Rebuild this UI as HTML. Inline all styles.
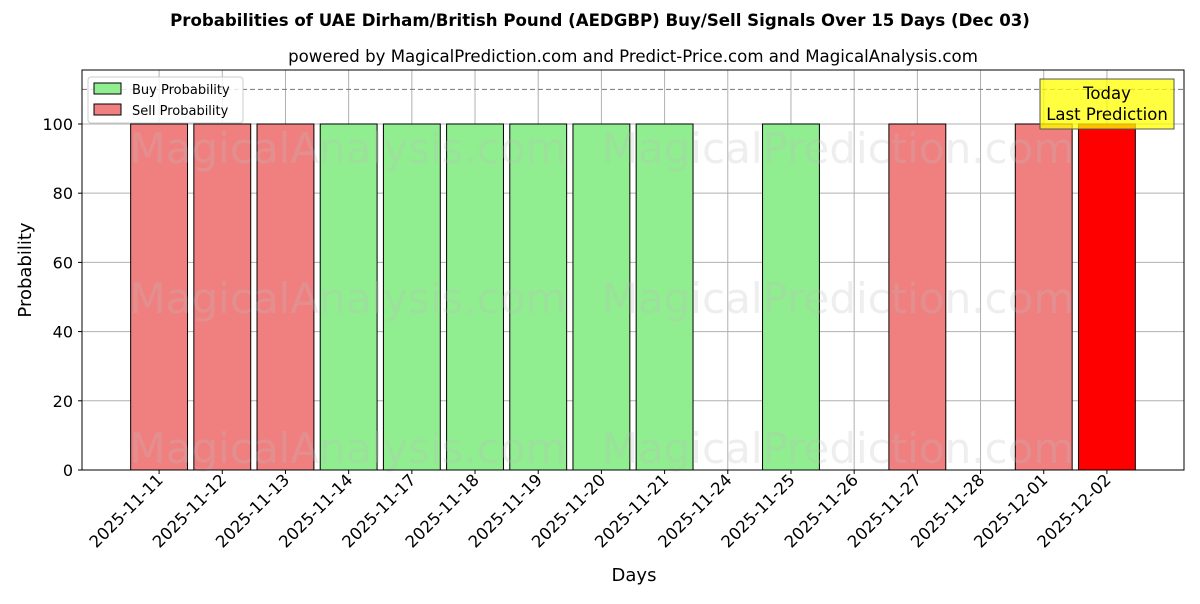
<!DOCTYPE html>
<html><head><meta charset="utf-8"><style>
body{margin:0;background:#fff;font-family:"DejaVu Sans","Liberation Sans",sans-serif;}
</style></head><body>
<svg id="chart" width="1200" height="600" xmlns="http://www.w3.org/2000/svg">
<text x="600" y="26" text-anchor="middle" font-size="16.6" font-weight="bold">Probabilities of UAE Dirham/British Pound (AEDGBP) Buy/Sell Signals Over 15 Days (Dec 03)</text>
<text x="633" y="62" text-anchor="middle" font-size="16.6">powered by MagicalPrediction.com and Predict-Price.com and MagicalAnalysis.com</text>
<g id="grid"></g>
<g id="bars"></g>
<g id="wm" font-size="42" fill="#bbb" fill-opacity="0.25" text-anchor="middle">
<text x="348" y="163">MagicalAnalysis.com</text>
<text x="838" y="163">MagicalPrediction.com</text>
<text x="348" y="313">MagicalAnalysis.com</text>
<text x="838" y="313">MagicalPrediction.com</text>
<text x="348" y="463">MagicalAnalysis.com</text>
<text x="838" y="463">MagicalPrediction.com</text>
</g>
<line id="thr" x1="82" x2="1184" stroke="#777" stroke-dasharray="5,3"/>
<rect x="82" y="70" width="1102" height="400" fill="none" stroke="#000"/>
<g id="axes" font-size="16"></g>
<text x="634" y="581" text-anchor="middle" font-size="18">Days</text>
<text transform="translate(31,270) rotate(-90)" text-anchor="middle" font-size="18">Probability</text>
<g>
<rect x="88" y="77" width="155" height="46" rx="3" fill="#fff" fill-opacity="0.8" stroke="#ccc"/>
<rect x="94" y="83" width="27" height="11" fill="#90ee90" stroke="#000"/>
<text x="132" y="94" font-size="13">Buy Probability</text>
<rect x="94" y="104" width="27" height="11" fill="#f08080" stroke="#000"/>
<text x="132" y="115" font-size="13">Sell Probability</text>
</g>
<g>
<rect x="1040" y="79" width="134" height="50" fill="#ffff00" fill-opacity="0.75" stroke="#555"/>
<text x="1107" y="99" text-anchor="middle" font-size="16.5">Today</text>
<text x="1107" y="120" text-anchor="middle" font-size="16.5">Last Prediction</text>
</g>
</svg>
<script>
const categories=["2025-11-11","2025-11-12","2025-11-13","2025-11-14","2025-11-17","2025-11-18","2025-11-19","2025-11-20","2025-11-21","2025-11-24","2025-11-25","2025-11-26","2025-11-27","2025-11-28","2025-12-01","2025-12-02"];
const buyValues=[0,0,0,100,100,100,100,100,100,0,100,0,0,0,0,0];
const sellValues=[100,100,100,0,0,0,0,0,0,0,0,0,100,0,100,100];
const yTicks=[0,20,40,60,80,100];
const threshold=110;
const NS="http://www.w3.org/2000/svg";
const L=82,R=1184,T=70,B=470,xmin=-1.22,xmax=categories.length-1+1.22,ymax=115.6;
const X=i=>L+(i-xmin)/(xmax-xmin)*(R-L);
const Y=v=>B-v/ymax*(B-T);
const bw=0.9*(R-L)/(xmax-xmin);
function mk(t,a,p){const e=document.createElementNS(NS,t);for(const k in a)e.setAttribute(k,a[k]);p.appendChild(e);return e;}
const grid=document.getElementById('grid'),bars=document.getElementById('bars'),axes=document.getElementById('axes');
yTicks.forEach(v=>{
 const g=mk('line',{x1:L,x2:R,y1:Y(v),y2:Y(v),stroke:'#b0b0b0'},grid);
 
 
 mk('line',{x1:L-4,x2:L,y1:Y(v),y2:Y(v),stroke:'#000'},axes);
 const t=mk('text',{x:L-9,y:Y(v)+6,'text-anchor':'end'},axes);t.textContent=v;
 
 
});
categories.forEach((c,i)=>{
 const x=X(i);
 const g=mk('line',{x1:x,x2:x,y1:T,y2:B,stroke:'#b0b0b0'},grid);
 
 
 mk('line',{x1:x,x2:x,y1:B,y2:B+4,stroke:'#000'},axes);
 const t=mk('text',{transform:`translate(${x+5},${B+11}) rotate(-45)`,'text-anchor':'end','font-size':'16.5'},axes);t.textContent=c;
 
 
 const last=i===categories.length-1;
 if(sellValues[i]>0){const r=mk('rect',{x:x-bw/2,y:Y(sellValues[i]),width:bw,height:B-Y(sellValues[i]),fill:last?'#ff0000':'#f08080',stroke:'#000'},bars);
  
  }
 if(buyValues[i]>0){const r=mk('rect',{x:x-bw/2,y:Y(buyValues[i]),width:bw,height:B-Y(buyValues[i]),fill:'#90ee90',stroke:'#000'},bars);
  
  }
});
const th=document.getElementById('thr');th.setAttribute('y1',Y(threshold));th.setAttribute('y2',Y(threshold));
</script>
</body></html>
